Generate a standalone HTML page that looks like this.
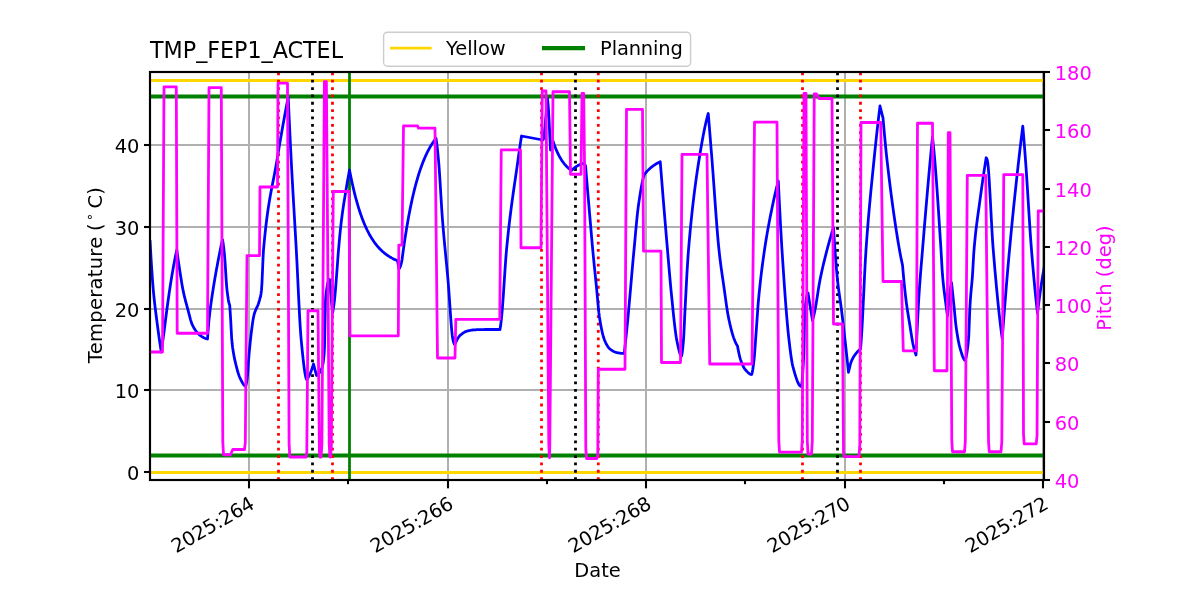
<!DOCTYPE html>
<html lang="en"><head><meta charset="utf-8"><title>TMP_FEP1_ACTEL</title>
<style>html,body{margin:0;padding:0;background:#fff}body{width:1200px;height:600px;overflow:hidden}svg{display:block}text{font-family:'DejaVu Sans','Liberation Sans',sans-serif;}</style></head><body>
<svg width="1200" height="600" viewBox="0 0 1200 600">
<rect x="0" y="0" width="1200" height="600" fill="#ffffff"/>
<defs><clipPath id="ax"><rect x="150" y="72" width="894" height="408"/></clipPath></defs>
<g clip-path="url(#ax)">
<g stroke="#b0b0b0" stroke-width="2" fill="none">
<line x1="249.00" y1="72" x2="249.00" y2="480"/>
<line x1="448.00" y1="72" x2="448.00" y2="480"/>
<line x1="646.00" y1="72" x2="646.00" y2="480"/>
<line x1="845.00" y1="72" x2="845.00" y2="480"/>
<line x1="1043.00" y1="72" x2="1043.00" y2="480"/>
<line x1="150" y1="472.00" x2="1044" y2="472.00"/>
<line x1="150" y1="390.00" x2="1044" y2="390.00"/>
<line x1="150" y1="309.00" x2="1044" y2="309.00"/>
<line x1="150" y1="227.00" x2="1044" y2="227.00"/>
<line x1="150" y1="145.00" x2="1044" y2="145.00"/>
</g>
<line x1="150" y1="80.50" x2="1044" y2="80.50" stroke="#ffd700" stroke-width="2.78"/>
<line x1="150" y1="472.50" x2="1044" y2="472.50" stroke="#ffd700" stroke-width="2.78"/>
<line x1="150" y1="96.50" x2="1044" y2="96.50" stroke="#008000" stroke-width="4.17"/>
<line x1="150" y1="455.50" x2="1044" y2="455.50" stroke="#008000" stroke-width="4.17"/>
<line x1="278.50" y1="480" x2="278.50" y2="72" stroke="#ff0000" stroke-width="2.78" stroke-dasharray="2.78 4.58"/>
<line x1="332.50" y1="480" x2="332.50" y2="72" stroke="#ff0000" stroke-width="2.78" stroke-dasharray="2.78 4.58"/>
<line x1="541.50" y1="480" x2="541.50" y2="72" stroke="#ff0000" stroke-width="2.78" stroke-dasharray="2.78 4.58"/>
<line x1="598.30" y1="480" x2="598.30" y2="72" stroke="#ff0000" stroke-width="2.78" stroke-dasharray="2.78 4.58"/>
<line x1="802.50" y1="480" x2="802.50" y2="72" stroke="#ff0000" stroke-width="2.78" stroke-dasharray="2.78 4.58"/>
<line x1="860.50" y1="480" x2="860.50" y2="72" stroke="#ff0000" stroke-width="2.78" stroke-dasharray="2.78 4.58"/>
<line x1="312.50" y1="480" x2="312.50" y2="72" stroke="#000000" stroke-width="2.78" stroke-dasharray="2.78 4.58"/>
<line x1="575.50" y1="480" x2="575.50" y2="72" stroke="#000000" stroke-width="2.78" stroke-dasharray="2.78 4.58"/>
<line x1="837.50" y1="480" x2="837.50" y2="72" stroke="#000000" stroke-width="2.78" stroke-dasharray="2.78 4.58"/>
<line x1="349.50" y1="480" x2="349.50" y2="72" stroke="#008000" stroke-width="2.78"/>
<path d="M150.00 240.00 L150.49 248.79 L150.98 257.21 L151.47 265.20 L151.97 272.69 L152.46 279.62 L152.95 285.91 L153.44 291.52 L153.93 296.58 L154.42 301.23 L154.91 305.55 L155.40 309.61 L155.90 313.50 L156.39 317.29 L156.88 321.06 L157.37 324.84 L157.86 328.55 L158.35 332.18 L158.84 335.73 L159.33 339.18 L159.83 342.54 L160.32 345.80 L160.81 348.96 L161.30 352.00 L161.80 348.35 L162.30 344.68 L162.80 340.98 L163.30 337.26 L163.80 333.51 L164.30 329.71 L164.80 325.83 L165.30 321.89 L165.80 317.94 L166.30 314.02 L166.80 310.18 L167.30 306.45 L167.80 302.85 L168.30 299.30 L168.80 295.78 L169.30 292.32 L169.80 288.92 L170.30 285.60 L170.80 282.36 L171.30 279.22 L171.80 276.18 L172.30 273.25 L172.80 270.39 L173.30 267.59 L173.80 264.85 L174.30 262.18 L174.80 259.59 L175.30 257.07 L175.80 254.63 L176.30 252.27 L176.80 250.00 L177.30 253.59 L177.79 257.12 L178.29 260.58 L178.78 263.97 L179.28 267.28 L179.77 270.53 L180.27 273.71 L180.76 276.90 L181.26 280.05 L181.75 283.11 L182.25 286.01 L182.74 288.70 L183.24 291.14 L183.73 293.42 L184.23 295.59 L184.72 297.65 L185.22 299.63 L185.71 301.54 L186.21 303.40 L186.70 305.23 L187.20 307.04 L187.69 308.86 L188.19 310.71 L188.68 312.61 L189.18 314.54 L189.67 316.46 L190.17 318.32 L190.66 320.08 L191.16 321.70 L191.65 323.13 L192.15 324.35 L192.65 325.43 L193.14 326.44 L193.64 327.38 L194.13 328.25 L194.63 329.05 L195.12 329.80 L195.62 330.49 L196.11 331.14 L196.61 331.76 L197.10 332.36 L197.60 332.93 L198.09 333.48 L198.59 333.99 L199.08 334.47 L199.58 334.92 L200.07 335.33 L200.57 335.71 L201.06 336.04 L201.56 336.35 L202.05 336.66 L202.55 336.96 L203.04 337.25 L203.54 337.53 L204.03 337.79 L204.53 338.03 L205.02 338.25 L205.52 338.45 L206.01 338.63 L206.51 338.78 L207.00 338.91 L207.50 339.00 L208.00 332.04 L208.50 325.54 L209.00 320.00 L209.50 315.32 L210.00 311.03 L210.50 307.07 L211.00 303.37 L211.50 299.88 L212.00 296.53 L212.50 293.26 L213.00 290.00 L213.50 286.79 L214.00 283.68 L214.50 280.67 L215.00 277.74 L215.50 274.89 L216.00 272.10 L216.50 269.36 L217.00 266.67 L217.50 264.00 L218.00 261.36 L218.50 258.76 L219.00 256.20 L219.50 253.68 L220.00 251.20 L220.50 248.77 L221.00 246.38 L221.50 244.04 L222.00 241.74 L222.50 239.50 L222.98 242.26 L223.46 245.71 L223.94 249.73 L224.42 254.22 L224.90 259.76 L225.38 267.00 L225.86 274.90 L226.34 282.38 L226.82 288.36 L227.30 292.38 L227.78 296.00 L228.26 299.25 L228.74 301.95 L229.22 303.93 L229.70 305.00 L230.19 312.04 L230.69 319.80 L231.18 329.27 L231.67 338.36 L232.17 343.78 L232.66 347.73 L233.16 351.00 L233.65 353.95 L234.14 356.64 L234.64 359.10 L235.13 361.37 L235.62 363.48 L236.12 365.47 L236.61 367.40 L237.11 369.27 L237.60 371.06 L238.09 372.75 L238.59 374.32 L239.08 375.76 L239.57 377.04 L240.07 378.14 L240.56 379.17 L241.06 380.17 L241.55 381.13 L242.04 382.04 L242.54 382.90 L243.03 383.69 L243.53 384.41 L244.02 385.03 L244.51 385.57 L245.01 385.99 L245.50 386.30 L246.00 385.21 L246.50 382.93 L247.00 380.00 L247.50 375.41 L248.00 368.74 L248.50 361.46 L249.00 355.00 L249.50 349.51 L250.00 344.25 L250.50 339.36 L251.00 335.00 L251.50 330.97 L252.00 327.07 L252.50 323.42 L253.00 320.11 L253.50 317.27 L254.00 315.00 L254.50 313.21 L255.00 311.69 L255.50 310.38 L256.00 309.22 L256.50 308.14 L257.00 307.09 L257.50 306.02 L258.00 304.85 L258.50 303.53 L259.00 302.00 L259.50 300.12 L260.00 298.00 L260.49 296.86 L260.99 293.97 L261.48 290.13 L261.98 282.94 L262.47 271.46 L262.97 259.39 L263.46 250.44 L263.96 244.91 L264.45 239.71 L264.95 234.80 L265.44 230.16 L265.94 225.78 L266.43 221.64 L266.93 217.73 L267.42 214.02 L267.92 210.51 L268.41 207.17 L268.91 203.99 L269.40 200.95 L269.89 198.04 L270.39 195.23 L270.88 192.52 L271.38 189.88 L271.87 187.30 L272.37 184.76 L272.86 182.25 L273.36 179.75 L273.85 177.24 L274.35 174.70 L274.84 172.13 L275.34 169.49 L275.83 166.78 L276.33 163.99 L276.82 161.08 L277.32 158.08 L277.81 155.09 L278.31 152.13 L278.80 149.18 L279.29 146.25 L279.79 143.34 L280.28 140.45 L280.78 137.58 L281.27 134.73 L281.77 131.90 L282.26 129.09 L282.76 126.31 L283.25 123.54 L283.75 120.79 L284.24 118.06 L284.74 115.36 L285.23 112.67 L285.73 110.01 L286.22 107.37 L286.72 104.74 L287.21 102.14 L287.71 99.56 L288.20 97.00 L288.70 108.05 L289.20 118.92 L289.70 129.59 L290.20 140.02 L290.70 150.17 L291.20 160.00 L291.70 169.49 L292.20 178.67 L292.70 187.61 L293.20 196.36 L293.70 204.98 L294.20 213.54 L294.70 222.07 L295.20 230.66 L295.70 239.35 L296.20 248.20 L296.70 257.46 L297.20 267.38 L297.70 277.71 L298.20 288.20 L298.70 298.60 L299.20 308.63 L299.70 318.04 L300.20 326.58 L300.70 333.99 L301.20 340.00 L301.70 345.19 L302.20 350.27 L302.70 355.16 L303.20 359.80 L303.70 364.12 L304.20 368.07 L304.70 371.56 L305.20 374.55 L305.70 376.95 L306.20 378.70 L306.70 379.75 L307.19 379.09 L307.67 378.36 L308.16 377.56 L308.64 376.69 L309.13 375.74 L309.61 374.73 L310.10 373.64 L310.59 372.48 L311.07 371.25 L311.56 369.94 L312.04 368.56 L312.53 367.11 L313.01 365.59 L313.50 364.00 L316.50 375.50 L317.00 375.33 L317.50 375.01 L318.00 374.56 L318.50 374.02 L319.00 373.39 L319.50 372.71 L320.00 372.00 L320.50 371.22 L321.00 370.29 L321.50 369.14 L322.00 367.73 L322.50 366.00 L323.00 363.69 L323.50 360.28 L324.00 355.35 L324.50 347.67 L325.00 321.34 L325.50 300.00 L326.00 294.97 L326.50 290.69 L327.00 287.16 L327.50 284.32 L328.00 282.17 L328.50 280.67 L329.00 279.79 L329.50 279.50 L332.50 313.00 L333.00 310.61 L333.50 307.57 L334.00 304.00 L334.50 300.00 L335.00 295.23 L335.50 289.48 L336.00 283.13 L336.50 276.51 L337.00 270.00 L337.50 263.29 L338.00 256.36 L338.50 250.00 L339.00 244.31 L339.50 238.86 L340.00 233.69 L340.50 228.80 L341.00 224.23 L341.50 220.00 L342.00 216.07 L342.50 212.37 L343.00 208.86 L343.50 205.51 L344.00 202.29 L344.50 199.16 L345.00 196.10 L345.50 193.05 L346.00 190.00 L346.50 186.96 L347.00 183.99 L347.50 181.07 L348.00 178.21 L348.50 175.42 L349.00 172.68 L349.50 170.00 L350.00 172.59 L350.50 175.12 L351.00 177.58 L351.50 179.97 L352.00 182.30 L352.50 184.57 L353.00 186.78 L353.50 188.93 L354.00 191.03 L354.50 193.07 L355.00 195.05 L355.50 196.99 L356.00 198.87 L356.50 200.70 L357.00 202.48 L357.50 204.22 L358.00 205.91 L358.50 207.56 L359.00 209.16 L359.50 210.72 L360.00 212.24 L360.50 213.72 L361.00 215.16 L361.50 216.56 L362.00 217.92 L362.50 219.25 L363.00 220.54 L363.50 221.80 L364.00 223.03 L364.50 224.22 L365.00 225.39 L365.50 226.52 L366.00 227.62 L366.50 228.69 L367.00 229.73 L367.50 230.75 L368.00 231.74 L368.50 232.70 L369.00 233.64 L369.50 234.56 L370.00 235.45 L370.50 236.31 L371.00 237.15 L371.50 237.97 L372.00 238.77 L372.50 239.55 L373.00 240.31 L373.50 241.05 L374.00 241.76 L374.50 242.46 L375.00 243.14 L375.50 243.80 L376.00 244.45 L376.50 245.08 L377.00 245.69 L377.50 246.28 L378.00 246.86 L378.50 247.43 L379.00 247.98 L379.50 248.51 L380.00 249.03 L380.50 249.54 L381.00 250.03 L381.50 250.51 L382.00 250.98 L382.50 251.44 L383.00 251.88 L383.50 252.31 L384.00 252.73 L384.50 253.14 L385.00 253.54 L385.50 253.93 L386.00 254.30 L386.50 254.67 L387.00 255.03 L387.50 255.38 L388.00 255.72 L388.50 256.05 L389.00 256.37 L389.50 256.68 L390.00 256.99 L390.50 257.28 L391.00 257.57 L391.50 257.85 L392.00 258.13 L392.50 258.39 L393.00 258.65 L393.50 258.90 L394.00 259.15 L394.50 259.39 L395.00 259.62 L395.50 259.85 L396.00 260.07 L396.50 260.29 L397.00 260.50 L397.50 260.70 L399.00 269.00 L399.50 268.30 L400.00 267.26 L400.50 266.00 L401.00 264.41 L401.50 262.37 L402.00 260.00 L402.50 256.19 L403.00 252.48 L403.50 248.86 L404.00 245.35 L404.50 241.92 L405.00 238.58 L405.50 235.33 L406.00 232.16 L406.50 229.08 L407.00 226.08 L407.50 223.15 L408.00 220.31 L408.50 217.53 L409.00 214.83 L409.50 212.20 L410.00 209.64 L410.50 207.14 L411.00 204.71 L411.50 202.35 L412.00 200.04 L412.50 197.80 L413.00 195.61 L413.50 193.49 L414.00 191.41 L414.50 189.39 L415.00 187.43 L415.50 185.51 L416.00 183.65 L416.50 181.83 L417.00 180.07 L417.50 178.34 L418.00 176.67 L418.50 175.03 L419.00 173.44 L419.50 171.89 L420.00 170.38 L420.50 168.91 L421.00 167.48 L421.50 166.09 L422.00 164.73 L422.50 163.41 L423.00 162.12 L423.50 160.87 L424.00 159.65 L424.50 158.46 L425.00 157.30 L425.50 156.18 L426.00 155.08 L426.50 154.01 L427.00 152.97 L427.50 151.95 L428.00 150.96 L428.50 150.00 L429.00 149.07 L429.50 148.15 L430.00 147.26 L430.50 146.40 L431.00 145.56 L431.50 144.74 L432.00 143.94 L432.50 143.16 L433.00 142.40 L433.50 141.66 L434.00 140.94 L434.50 140.24 L435.00 139.56 L435.50 138.90 L436.00 138.25 L436.49 141.61 L436.99 145.47 L437.48 149.78 L437.97 154.52 L438.47 159.65 L438.96 165.50 L439.45 172.37 L439.95 179.99 L440.44 188.04 L440.93 196.26 L441.43 204.33 L441.92 211.97 L442.41 218.89 L442.91 225.07 L443.40 230.92 L443.89 236.50 L444.39 241.86 L444.88 247.07 L445.38 252.18 L445.87 257.25 L446.36 262.33 L446.86 267.48 L447.35 272.75 L447.84 278.21 L448.34 284.03 L448.83 290.56 L449.32 297.57 L449.82 304.80 L450.31 312.02 L450.80 318.96 L451.30 325.38 L451.79 331.02 L452.28 335.64 L452.78 338.98 L453.27 341.02 L453.76 342.73 L454.26 343.98 L454.75 344.50 L455.25 343.43 L455.74 342.37 L456.24 341.35 L456.74 340.36 L457.24 339.43 L457.73 338.55 L458.23 337.73 L458.73 336.99 L459.23 336.33 L459.72 335.77 L460.22 335.30 L460.72 334.86 L461.21 334.45 L461.71 334.05 L462.21 333.67 L462.71 333.31 L463.20 332.97 L463.70 332.66 L464.20 332.37 L464.70 332.09 L465.19 331.85 L465.69 331.62 L466.19 331.42 L466.68 331.24 L467.18 331.09 L467.68 330.96 L468.18 330.83 L468.67 330.72 L469.17 330.61 L469.67 330.50 L470.16 330.40 L470.66 330.31 L471.16 330.22 L471.66 330.14 L472.15 330.07 L472.65 330.00 L473.15 329.94 L473.65 329.89 L474.14 329.85 L474.64 329.82 L475.14 329.79 L475.63 329.77 L476.13 329.75 L476.63 329.73 L477.13 329.71 L477.62 329.69 L478.12 329.67 L478.62 329.65 L479.12 329.64 L479.61 329.62 L480.11 329.61 L480.61 329.59 L481.10 329.58 L481.60 329.57 L482.10 329.55 L482.60 329.54 L483.09 329.54 L483.59 329.53 L484.09 329.52 L484.59 329.51 L485.08 329.51 L485.58 329.50 L486.08 329.50 L486.57 329.50 L487.07 329.50 L487.57 329.50 L488.07 329.50 L488.56 329.50 L489.06 329.50 L489.56 329.50 L490.05 329.50 L490.55 329.50 L491.05 329.50 L491.55 329.50 L492.04 329.50 L492.54 329.50 L493.04 329.50 L493.54 329.50 L494.03 329.50 L494.53 329.50 L495.03 329.50 L495.52 329.50 L496.02 329.50 L496.52 329.50 L497.02 329.50 L497.51 329.50 L498.01 329.50 L498.51 329.50 L499.01 329.50 L499.50 329.50 L500.00 329.50 L500.50 326.34 L501.00 322.45 L501.50 318.00 L502.00 312.73 L502.50 306.57 L503.00 300.00 L503.50 292.90 L504.00 285.20 L504.50 277.40 L505.00 270.00 L505.50 262.86 L506.00 255.97 L506.50 250.00 L507.00 244.82 L507.50 239.84 L508.00 235.05 L508.50 230.43 L509.00 225.98 L509.50 221.68 L510.00 217.52 L510.50 213.48 L511.00 209.57 L511.50 205.75 L512.00 202.03 L512.50 198.38 L513.00 194.80 L513.50 191.28 L514.00 187.79 L514.50 184.34 L515.00 180.91 L515.50 177.48 L516.00 174.04 L516.50 170.59 L517.00 167.11 L517.50 163.58 L518.00 160.00 L518.50 156.42 L519.00 152.91 L519.50 149.45 L520.00 146.04 L520.50 142.67 L521.00 139.32 L521.50 136.00 L541.50 139.75 L542.00 139.93 L542.50 139.99 L543.00 140.00 L543.50 138.94 L544.00 136.07 L544.50 131.82 L545.00 126.64 L545.50 120.98 L546.00 115.28 L546.50 110.00 L547.00 104.71 L547.50 99.00 L548.00 103.68 L548.50 110.00 L549.00 118.65 L549.50 129.32 L550.00 140.00 L550.50 150.00 L553.00 141.00 L553.50 142.51 L554.00 143.96 L554.50 145.35 L555.00 146.68 L555.50 147.97 L556.00 149.20 L556.50 150.38 L557.00 151.52 L557.50 152.61 L558.00 153.66 L558.50 154.66 L559.00 155.63 L559.50 156.56 L560.00 157.45 L560.50 158.30 L561.00 159.12 L561.50 159.91 L562.00 160.67 L562.50 161.40 L563.00 162.09 L563.50 162.76 L564.00 163.41 L564.50 164.03 L565.00 164.62 L565.50 165.19 L566.00 165.74 L566.50 166.26 L567.00 166.77 L567.50 167.25 L568.00 167.72 L568.50 168.17 L569.00 168.60 L569.50 169.01 L570.00 169.40 L570.50 169.78 L571.00 170.15 L571.50 170.50 L572.00 170.02 L572.50 169.55 L573.00 169.10 L573.50 168.67 L574.00 168.26 L574.50 167.86 L575.00 167.48 L575.50 167.11 L576.00 166.76 L576.50 166.43 L577.00 166.12 L577.50 165.82 L578.00 165.53 L578.50 165.27 L579.00 165.02 L579.50 164.78 L580.00 164.56 L580.50 164.36 L581.00 164.17 L581.50 164.00 L582.00 163.85 L582.50 163.71 L583.00 163.60 L583.50 163.50 L585.50 165.50 L586.00 171.43 L586.49 177.33 L586.99 183.21 L587.49 189.07 L587.98 194.91 L588.48 200.73 L588.98 206.53 L589.47 212.32 L589.97 218.09 L590.47 223.85 L590.96 229.59 L591.46 235.37 L591.96 241.14 L592.46 246.77 L592.95 252.16 L593.45 257.34 L593.95 262.37 L594.44 267.31 L594.94 272.18 L595.44 277.02 L595.93 281.88 L596.43 286.80 L596.93 291.95 L597.42 297.44 L597.92 302.97 L598.42 308.25 L598.91 313.00 L599.41 316.91 L599.91 320.05 L600.40 323.00 L600.90 325.78 L601.40 328.36 L601.89 330.76 L602.39 332.96 L602.89 334.96 L603.38 336.75 L603.88 338.33 L604.38 339.70 L604.88 340.89 L605.37 342.01 L605.87 343.06 L606.37 344.04 L606.86 344.96 L607.36 345.80 L607.86 346.57 L608.35 347.26 L608.85 347.88 L609.35 348.41 L609.84 348.87 L610.34 349.26 L610.84 349.63 L611.33 349.99 L611.83 350.32 L612.33 350.64 L612.82 350.94 L613.32 351.22 L613.82 351.48 L614.31 351.72 L614.81 351.94 L615.31 352.14 L615.80 352.31 L616.30 352.47 L616.80 352.60 L617.29 352.71 L617.79 352.80 L618.29 352.89 L618.79 352.97 L619.28 353.05 L619.78 353.13 L620.28 353.20 L620.77 353.26 L621.27 353.32 L621.77 353.37 L622.26 353.42 L622.76 353.45 L623.26 353.48 L623.75 353.49 L624.25 353.50 L624.74 349.02 L625.24 344.48 L625.73 339.85 L626.23 335.13 L626.72 330.31 L627.21 325.37 L627.71 320.29 L628.20 315.04 L628.70 309.66 L629.19 304.16 L629.68 298.58 L630.18 292.94 L630.67 287.27 L631.16 281.58 L631.66 275.91 L632.15 270.28 L632.65 264.71 L633.14 259.24 L633.63 253.88 L634.13 248.65 L634.62 243.32 L635.12 237.88 L635.61 232.42 L636.10 227.04 L636.60 221.82 L637.09 216.86 L637.59 212.26 L638.08 208.11 L638.57 204.50 L639.07 201.14 L639.56 197.87 L640.05 194.70 L640.55 191.66 L641.04 188.76 L641.54 186.02 L642.03 183.47 L642.52 181.13 L643.02 179.02 L643.51 177.15 L644.01 175.56 L644.50 174.25 L644.99 173.67 L645.48 173.10 L645.98 172.53 L646.47 171.98 L646.96 171.44 L647.45 170.92 L647.95 170.40 L648.44 169.90 L648.93 169.41 L649.42 168.94 L649.91 168.49 L650.41 168.05 L650.90 167.63 L651.39 167.22 L651.88 166.84 L652.38 166.47 L652.87 166.11 L653.36 165.75 L653.85 165.40 L654.34 165.06 L654.84 164.73 L655.33 164.40 L655.82 164.09 L656.31 163.79 L656.80 163.49 L657.30 163.21 L657.79 162.94 L658.28 162.69 L658.77 162.44 L659.27 162.21 L659.76 162.00 L660.25 161.80 L660.75 168.16 L661.25 174.47 L661.75 180.73 L662.25 186.96 L662.75 193.14 L663.25 199.28 L663.75 205.39 L664.25 211.45 L664.75 217.48 L665.25 223.47 L665.75 229.42 L666.25 235.34 L666.75 241.23 L667.25 247.08 L667.75 252.92 L668.25 258.80 L668.75 264.69 L669.25 270.54 L669.75 276.29 L670.25 281.91 L670.75 287.33 L671.25 292.51 L671.75 297.46 L672.25 302.42 L672.75 307.39 L673.25 312.30 L673.75 317.10 L674.25 321.72 L674.75 326.10 L675.25 330.18 L675.75 333.90 L676.25 337.19 L676.75 340.00 L677.25 342.51 L677.75 344.92 L678.25 347.20 L678.75 349.33 L679.25 351.26 L679.75 352.98 L680.25 354.45 L680.75 355.63 L681.25 356.50 L681.75 355.37 L682.25 352.35 L682.75 347.97 L683.25 342.75 L683.75 336.50 L684.25 326.42 L684.75 315.08 L685.25 305.31 L685.75 295.81 L686.25 286.34 L686.75 277.13 L687.25 268.39 L687.75 260.33 L688.25 253.17 L688.75 247.00 L689.25 241.18 L689.75 235.56 L690.25 230.16 L690.75 224.95 L691.25 219.93 L691.75 215.10 L692.25 210.43 L692.75 205.93 L693.25 201.59 L693.75 197.39 L694.25 193.33 L694.75 189.40 L695.25 185.59 L695.75 181.89 L696.25 178.30 L696.75 174.80 L697.25 171.38 L697.75 168.05 L698.25 164.79 L698.75 161.58 L699.25 158.43 L699.75 155.33 L700.25 152.28 L700.75 149.29 L701.25 146.36 L701.75 143.49 L702.25 140.69 L702.75 137.96 L703.25 135.30 L703.75 132.72 L704.25 130.22 L704.75 127.80 L705.25 125.47 L705.75 123.23 L706.25 121.08 L706.75 119.03 L707.25 117.08 L707.75 115.24 L708.25 113.50 L708.75 119.58 L709.24 125.67 L709.74 131.78 L710.23 137.92 L710.73 144.08 L711.22 150.27 L711.72 156.48 L712.22 162.75 L712.71 169.23 L713.21 175.92 L713.70 182.76 L714.20 189.68 L714.69 196.63 L715.19 203.57 L715.69 210.42 L716.18 217.14 L716.68 223.66 L717.17 229.94 L717.67 235.91 L718.17 241.52 L718.66 246.72 L719.16 251.45 L719.65 255.83 L720.15 259.96 L720.64 263.85 L721.14 267.57 L721.64 271.14 L722.13 274.62 L722.63 278.03 L723.12 281.42 L723.62 284.84 L724.11 288.31 L724.61 291.87 L725.11 295.48 L725.60 299.10 L726.10 302.65 L726.59 306.11 L727.09 309.41 L727.58 312.50 L728.08 315.34 L728.58 317.87 L729.07 320.23 L729.57 322.50 L730.06 324.69 L730.56 326.78 L731.06 328.79 L731.55 330.70 L732.05 332.51 L732.54 334.23 L733.04 335.84 L733.53 337.36 L734.03 338.76 L734.53 340.06 L735.02 341.27 L735.52 342.40 L736.01 343.44 L736.51 344.39 L737.00 345.25 L737.50 346.00 L737.99 348.63 L738.48 351.16 L738.97 353.54 L739.47 355.73 L739.96 357.68 L740.45 359.34 L740.94 360.79 L741.43 362.15 L741.92 363.44 L742.41 364.63 L742.91 365.73 L743.40 366.73 L743.89 367.63 L744.38 368.42 L744.87 369.09 L745.36 369.68 L745.85 370.25 L746.34 370.81 L746.84 371.35 L747.33 371.87 L747.82 372.36 L748.31 372.82 L748.80 373.23 L749.29 373.59 L749.78 373.90 L750.28 374.16 L750.77 374.34 L751.26 374.46 L751.75 374.50 L752.24 372.49 L752.73 369.71 L753.23 366.29 L753.72 362.40 L754.21 358.05 L754.70 352.41 L755.19 345.77 L755.68 338.68 L756.17 331.69 L756.67 324.93 L757.16 317.80 L757.65 310.73 L758.14 304.18 L758.63 298.58 L759.12 293.49 L759.62 288.65 L760.11 284.03 L760.60 279.62 L761.09 275.40 L761.58 271.35 L762.07 267.46 L762.57 263.71 L763.06 260.09 L763.55 256.57 L764.04 253.13 L764.53 249.77 L765.02 246.50 L765.52 243.33 L766.01 240.25 L766.50 237.26 L766.99 234.36 L767.48 231.53 L767.98 228.77 L768.47 226.08 L768.96 223.44 L769.45 220.86 L769.94 218.33 L770.43 215.83 L770.92 213.37 L771.42 210.94 L771.91 208.54 L772.40 206.18 L772.89 203.85 L773.38 201.56 L773.88 199.31 L774.37 197.09 L774.86 194.92 L775.35 192.79 L775.84 190.71 L776.33 188.67 L776.82 186.68 L777.32 184.73 L777.81 182.84 L778.30 181.00 L778.80 191.23 L779.30 201.29 L779.80 211.11 L780.30 220.62 L780.79 229.77 L781.29 238.49 L781.79 246.73 L782.29 254.51 L782.79 262.15 L783.29 269.68 L783.79 277.07 L784.29 284.30 L784.79 291.34 L785.28 298.17 L785.78 304.76 L786.28 311.10 L786.78 317.15 L787.28 322.89 L787.78 328.31 L788.28 333.36 L788.78 338.04 L789.28 342.36 L789.77 346.54 L790.27 350.54 L790.77 354.32 L791.27 357.82 L791.77 360.98 L792.27 363.76 L792.77 366.09 L793.27 367.99 L793.77 369.81 L794.27 371.60 L794.76 373.34 L795.26 375.02 L795.76 376.62 L796.26 378.15 L796.76 379.59 L797.26 380.92 L797.76 382.14 L798.26 383.23 L798.76 384.18 L799.25 384.99 L799.75 385.63 L800.25 386.11 L800.75 386.40 L801.25 386.50 L801.73 384.83 L802.21 380.32 L802.70 373.70 L803.18 365.71 L803.66 356.26 L804.14 338.20 L804.62 318.77 L805.11 308.89 L805.59 304.29 L806.07 300.39 L806.55 297.25 L807.04 294.93 L807.52 293.49 L808.00 293.00 L812.50 320.50 L813.00 318.64 L813.50 316.67 L814.00 314.58 L814.50 312.35 L815.00 310.00 L815.50 307.42 L816.00 304.59 L816.50 301.55 L817.00 298.37 L817.50 295.13 L818.00 291.87 L818.50 288.66 L819.00 285.57 L819.50 282.67 L820.00 280.00 L820.50 277.51 L821.00 275.10 L821.50 272.75 L822.00 270.46 L822.50 268.23 L823.00 266.06 L823.50 263.93 L824.00 261.85 L824.50 259.80 L825.00 257.79 L825.50 255.81 L826.00 253.85 L826.50 251.92 L827.00 250.00 L827.50 248.10 L828.00 246.23 L828.50 244.38 L829.00 242.56 L829.50 240.77 L830.00 239.00 L830.50 237.27 L831.00 235.56 L831.50 233.89 L832.00 232.24 L832.50 230.63 L833.00 229.05 L833.50 227.50 L834.00 235.42 L834.50 242.97 L835.00 250.00 L835.50 256.67 L836.00 263.15 L836.50 269.29 L837.00 274.95 L837.50 280.00 L838.00 284.45 L838.50 288.47 L839.00 292.18 L839.50 295.69 L840.00 299.12 L840.50 302.57 L841.00 306.16 L841.50 310.00 L842.00 314.06 L842.50 318.22 L843.00 322.47 L843.50 326.79 L844.00 331.16 L844.50 335.57 L845.00 340.00 L845.50 344.47 L846.00 348.98 L846.50 353.54 L847.00 358.15 L847.50 362.80 L848.00 367.50 L848.50 372.25 L849.00 369.99 L849.50 367.82 L850.00 365.79 L850.50 363.95 L851.00 362.34 L851.50 361.00 L852.00 359.87 L852.50 358.84 L853.00 357.89 L853.50 357.03 L854.00 356.23 L854.50 355.49 L855.00 354.79 L855.50 354.13 L856.00 353.50 L856.50 352.88 L857.00 352.29 L857.50 351.72 L858.00 351.18 L858.50 350.67 L859.00 350.19 L859.50 349.76 L860.00 349.36 L860.50 349.00 L861.00 343.27 L861.50 336.33 L862.00 328.00 L862.50 318.62 L863.00 308.50 L863.50 297.96 L864.00 287.31 L864.50 276.87 L865.00 266.96 L865.50 257.90 L866.00 250.00 L866.50 242.94 L867.00 236.17 L867.50 229.68 L868.00 223.43 L868.50 217.42 L869.00 211.61 L869.50 205.98 L870.00 200.52 L870.50 195.19 L871.00 189.99 L871.50 184.88 L872.00 179.84 L872.50 174.86 L873.00 169.90 L873.50 164.96 L874.00 160.00 L874.50 155.07 L875.00 150.21 L875.50 145.43 L876.00 140.73 L876.50 136.11 L877.00 131.57 L877.50 127.10 L878.00 122.72 L878.50 118.42 L879.00 114.20 L879.50 110.06 L880.00 106.00 L883.00 118.00 L883.50 123.65 L884.00 129.26 L884.50 134.81 L885.00 140.24 L885.50 145.51 L886.00 150.59 L886.50 155.43 L887.00 160.00 L887.50 164.38 L888.00 168.69 L888.50 172.93 L889.00 177.10 L889.50 181.20 L890.00 185.24 L890.50 189.21 L891.00 193.12 L891.50 196.96 L892.00 200.73 L892.50 204.45 L893.00 208.09 L893.50 211.68 L894.00 215.20 L894.50 218.66 L895.00 222.06 L895.50 225.40 L896.00 228.68 L896.50 231.90 L897.00 235.06 L897.50 238.16 L898.00 241.21 L898.50 244.20 L899.00 247.13 L899.50 250.00 L900.00 252.77 L900.50 255.40 L901.00 257.92 L901.50 260.34 L902.00 262.70 L902.50 265.00 L903.00 270.73 L903.50 276.26 L904.00 281.57 L904.50 286.62 L905.00 291.40 L905.50 295.87 L906.00 300.00 L906.50 303.81 L907.00 307.35 L907.50 310.68 L908.00 313.84 L908.50 316.91 L909.00 319.92 L909.50 322.93 L910.00 326.00 L910.50 329.18 L911.00 332.42 L911.50 335.63 L912.00 338.69 L912.50 341.52 L913.00 344.00 L913.50 346.22 L914.00 348.32 L914.50 350.27 L915.00 352.05 L915.50 353.63 L916.00 355.00 L916.50 343.56 L917.00 332.59 L917.50 322.17 L918.00 312.37 L918.50 303.29 L919.00 295.00 L919.50 287.48 L920.00 280.55 L920.50 274.09 L921.00 267.95 L921.50 261.98 L922.00 256.04 L922.50 250.00 L923.00 243.87 L923.50 237.78 L924.00 231.73 L924.50 225.71 L925.00 219.73 L925.50 213.79 L926.00 207.90 L926.50 202.06 L927.00 196.26 L927.50 190.52 L928.00 184.84 L928.50 179.21 L929.00 173.64 L929.50 168.14 L930.00 162.70 L930.50 157.33 L931.00 152.11 L931.50 147.00 L932.00 141.97 L932.50 137.00 L933.00 141.65 L933.50 146.53 L934.00 151.67 L934.50 157.14 L935.00 162.95 L935.50 169.10 L936.00 175.54 L936.50 182.25 L937.00 189.20 L937.50 196.36 L938.00 203.70 L938.50 211.19 L939.00 218.81 L939.50 226.53 L940.00 234.32 L940.50 242.16 L941.00 250.00 L941.50 258.65 L942.00 267.63 L942.50 275.00 L943.00 280.53 L943.50 285.38 L944.00 289.73 L944.50 293.71 L945.00 297.47 L945.50 301.19 L946.00 305.00 L946.50 308.82 L947.00 312.47 L947.50 316.00 L948.00 310.17 L948.50 305.00 L949.00 300.47 L949.50 296.16 L950.00 292.12 L950.50 288.45 L951.00 285.22 L951.50 282.50 L951.99 286.98 L952.48 291.53 L952.97 296.15 L953.46 300.82 L953.95 305.55 L954.44 310.57 L954.94 315.89 L955.43 321.00 L955.92 325.37 L956.41 328.92 L956.90 332.24 L957.39 335.34 L957.88 338.22 L958.37 340.88 L958.86 343.30 L959.35 345.48 L959.84 347.43 L960.33 349.17 L960.82 350.86 L961.31 352.47 L961.81 354.00 L962.30 355.43 L962.79 356.72 L963.28 357.87 L963.77 358.85 L964.26 359.65 L964.75 360.25 L965.25 359.82 L965.75 358.59 L966.25 356.60 L966.75 353.93 L967.24 350.64 L967.74 346.79 L968.24 342.43 L968.74 336.48 L969.24 324.05 L969.74 310.36 L970.24 301.36 L970.74 294.93 L971.23 289.49 L971.73 284.29 L972.23 278.56 L972.73 271.42 L973.23 262.45 L973.73 253.75 L974.23 247.34 L974.73 241.87 L975.23 236.85 L975.72 232.21 L976.22 227.90 L976.72 223.85 L977.22 220.03 L977.72 216.35 L978.22 212.78 L978.72 209.26 L979.22 205.72 L979.72 202.11 L980.21 198.40 L980.71 194.70 L981.21 191.06 L981.71 187.46 L982.21 183.92 L982.71 180.44 L983.21 177.01 L983.71 173.65 L984.20 170.34 L984.70 167.09 L985.20 163.91 L985.70 160.80 L986.20 157.75 L986.69 158.40 L987.17 159.75 L987.66 162.02 L988.15 166.11 L988.63 171.78 L989.12 178.74 L989.60 186.71 L990.09 195.40 L990.58 204.54 L991.06 213.83 L991.55 223.00 L992.04 231.76 L992.52 239.83 L993.01 246.93 L993.50 252.95 L993.98 258.73 L994.47 264.44 L994.95 270.05 L995.44 275.57 L995.93 280.99 L996.41 286.29 L996.90 291.47 L997.39 296.53 L997.87 301.46 L998.36 306.24 L998.85 310.87 L999.33 315.35 L999.82 319.66 L1000.30 323.80 L1000.79 327.77 L1001.28 331.54 L1001.76 335.12 L1002.25 338.50 L1002.74 332.02 L1003.23 325.61 L1003.72 319.25 L1004.21 312.96 L1004.70 306.74 L1005.19 300.59 L1005.67 294.52 L1006.16 288.52 L1006.65 282.61 L1007.14 276.78 L1007.63 271.04 L1008.12 265.40 L1008.61 259.84 L1009.10 254.39 L1009.59 249.03 L1010.08 243.76 L1010.57 238.56 L1011.06 233.43 L1011.55 228.37 L1012.04 223.37 L1012.52 218.43 L1013.01 213.56 L1013.50 208.74 L1013.99 203.98 L1014.48 199.27 L1014.97 194.60 L1015.46 189.99 L1015.95 185.42 L1016.44 180.89 L1016.93 176.40 L1017.42 171.95 L1017.91 167.53 L1018.40 163.15 L1018.89 158.80 L1019.38 154.51 L1019.86 150.30 L1020.35 146.15 L1020.84 142.07 L1021.33 138.04 L1021.82 134.07 L1022.31 130.14 L1022.80 126.25 L1023.29 132.05 L1023.78 137.97 L1024.27 144.03 L1024.76 150.25 L1025.25 156.66 L1025.74 163.29 L1026.23 170.30 L1026.72 177.65 L1027.21 185.24 L1027.70 193.01 L1028.19 200.87 L1028.68 208.73 L1029.17 216.52 L1029.66 224.15 L1030.15 231.54 L1030.64 238.61 L1031.13 245.28 L1031.62 251.48 L1032.11 257.44 L1032.60 263.28 L1033.09 268.98 L1033.58 274.55 L1034.07 279.96 L1034.56 285.21 L1035.05 290.30 L1035.54 295.22 L1036.03 299.95 L1036.52 304.50 L1037.01 308.85 L1037.50 313.00 L1038.00 308.85 L1038.50 304.84 L1039.00 300.96 L1039.50 297.20 L1040.00 293.57 L1040.50 290.05 L1041.00 286.64 L1041.50 283.33 L1042.00 280.13 L1042.50 277.02 L1043.00 274.02 L1043.50 271.20 L1044.00 268.54 L1044.50 266.00" fill="none" stroke="#0000ff" stroke-width="2.78" stroke-linejoin="round" stroke-linecap="butt"/>
</g>
<g stroke="#000" stroke-width="2.08" fill="none">
<line x1="249.00" y1="480" x2="249.00" y2="488.33"/>
<line x1="448.00" y1="480" x2="448.00" y2="488.33"/>
<line x1="646.00" y1="480" x2="646.00" y2="488.33"/>
<line x1="845.00" y1="480" x2="845.00" y2="488.33"/>
<line x1="1043.00" y1="480" x2="1043.00" y2="488.33"/>
<line x1="150" y1="472.00" x2="144.00" y2="472.00"/>
<line x1="150" y1="390.00" x2="144.00" y2="390.00"/>
<line x1="150" y1="309.00" x2="144.00" y2="309.00"/>
<line x1="150" y1="227.00" x2="144.00" y2="227.00"/>
<line x1="150" y1="145.00" x2="144.00" y2="145.00"/>
</g>
<g stroke="#000" stroke-width="2.08" fill="none">
<line x1="348.00" y1="480" x2="348.00" y2="484.17"/>
<line x1="547.00" y1="480" x2="547.00" y2="484.17"/>
<line x1="745.00" y1="480" x2="745.00" y2="484.17"/>
<line x1="944.00" y1="480" x2="944.00" y2="484.17"/>
</g>
<rect x="150" y="72" width="894" height="408" fill="none" stroke="#000" stroke-width="2.08"/>
<g clip-path="url(#ax)">
<path d="M150.00 352.00 L162.50 352.00 L164.00 86.80 L176.30 86.80 L177.20 333.25 L207.50 333.25 L209.00 87.70 L221.30 87.70 L222.80 441.90 L223.50 454.75 L230.50 454.75 L232.75 449.50 L244.50 449.50 L245.30 442.72 L247.00 255.70 L259.50 255.70 L260.00 187.00 L277.50 187.00 L278.00 83.20 L287.50 83.20 L289.10 443.92 L289.80 457.00 L306.00 457.00 L306.80 451.88 L308.00 310.75 L318.00 310.75 L319.40 451.88 L320.10 457.00 L321.10 457.00 L321.90 443.86 L324.40 81.60 L326.40 81.60 L329.20 443.86 L329.90 457.00 L330.50 457.00 L331.30 447.71 L333.25 191.50 L349.00 191.50 L350.00 335.80 L398.30 335.80 L398.80 245.20 L402.00 245.20 L403.50 125.80 L417.50 125.80 L418.50 128.20 L435.00 128.20 L437.50 358.00 L455.00 358.00 L455.80 319.30 L499.75 319.30 L501.25 149.80 L520.50 149.80 L521.00 247.75 L541.00 247.75 L542.25 91.00 L546.00 91.00 L548.80 444.91 L549.50 457.75 L549.50 457.75 L549.80 444.94 L553.00 91.75 L569.50 91.75 L570.50 174.25 L581.00 174.25 L582.00 93.50 L583.70 93.50 L584.60 170.00 L584.60 170.00 L585.80 448.40 L586.50 458.50 L597.00 458.50 L597.80 455.38 L598.30 369.25 L625.00 369.25 L626.50 109.30 L642.50 109.30 L643.50 251.20 L661.00 251.20 L661.50 362.50 L680.50 362.50 L682.00 154.30 L707.00 154.30 L709.75 364.00 L752.00 364.00 L754.50 122.20 L777.00 122.20 L778.80 440.65 L779.50 452.20 L801.50 452.20 L802.30 439.64 L804.00 93.40 L806.00 93.40 L807.30 441.38 L808.00 454.00 L811.50 454.00 L812.30 441.40 L814.25 93.90 L816.50 93.90 L819.00 98.50 L832.00 98.50 L833.50 324.00 L842.50 324.00 L843.50 452.06 L844.20 456.70 L859.00 456.70 L859.80 445.00 L861.00 122.50 L880.75 122.50 L883.00 281.50 L901.50 281.50 L903.25 350.80 L916.50 350.80 L917.50 123.25 L932.50 123.25 L934.30 370.75 L947.00 370.75 L948.30 132.60 L950.00 132.60 L951.80 440.58 L952.50 451.75 L964.50 451.75 L965.30 442.07 L967.30 175.30 L985.75 175.30 L988.55 442.07 L989.25 451.75 L1001.00 451.75 L1001.80 442.05 L1003.75 174.55 L1022.80 174.55 L1023.50 434.38 L1024.20 443.80 L1036.25 443.80 L1037.05 435.65 L1038.25 211.00 L1044.50 211.00" fill="none" stroke="#ff00ff" stroke-width="2.78" stroke-linejoin="round" stroke-linecap="butt"/>
</g>
<g stroke="#000" stroke-width="2.08" fill="none">
<line x1="1044" y1="480.00" x2="1050.00" y2="480.00"/>
<line x1="1044" y1="422.00" x2="1050.00" y2="422.00"/>
<line x1="1044" y1="363.00" x2="1050.00" y2="363.00"/>
<line x1="1044" y1="305.00" x2="1050.00" y2="305.00"/>
<line x1="1044" y1="247.00" x2="1050.00" y2="247.00"/>
<line x1="1044" y1="189.00" x2="1050.00" y2="189.00"/>
<line x1="1044" y1="130.00" x2="1050.00" y2="130.00"/>
<line x1="1044" y1="72.00" x2="1050.00" y2="72.00"/>
</g>
<rect x="150" y="72" width="894" height="408" fill="none" stroke="#000" stroke-width="2.08"/>
<g font-size="19.44px" fill="#000" text-anchor="end">
<text x="139.40" y="480.00">0</text>
<text x="139.40" y="398.00">10</text>
<text x="139.40" y="317.00">20</text>
<text x="139.40" y="235.00">30</text>
<text x="139.40" y="153.00">40</text>
</g>
<g font-size="19.44px" fill="#ff00ff" text-anchor="start">
<text x="1054.70" y="488.30">40</text>
<text x="1054.70" y="430.30">60</text>
<text x="1054.70" y="371.30">80</text>
<text x="1054.70" y="313.30">100</text>
<text x="1054.70" y="255.30">120</text>
<text x="1054.70" y="197.30">140</text>
<text x="1054.70" y="138.30">160</text>
<text x="1054.70" y="80.30">180</text>
</g>
<g font-size="19.44px" fill="#000" text-anchor="end" letter-spacing="-0.2">
<text transform="translate(255.50,507.70) rotate(-30)" x="0" y="0">2025:264</text>
<text transform="translate(454.50,507.70) rotate(-30)" x="0" y="0">2025:266</text>
<text transform="translate(652.50,507.70) rotate(-30)" x="0" y="0">2025:268</text>
<text transform="translate(851.50,507.70) rotate(-30)" x="0" y="0">2025:270</text>
<text transform="translate(1049.50,507.70) rotate(-30)" x="0" y="0">2025:272</text>
</g>
<text x="597.50" y="576.50" font-size="19.44px" text-anchor="middle" fill="#000">Date</text>
<text transform="translate(102.00,276.00) rotate(-90)" font-size="19.44px" text-anchor="start" fill="#000"><tspan x="-87.20" y="0" letter-spacing="0.32">Temperature</tspan><tspan x="45.00" y="0">(</tspan><tspan x="54.80" y="-8.00" font-size="13.608px">&#8728;</tspan><tspan x="67.60" y="0">C)</tspan></text>
<text transform="translate(1111.00,278.00) rotate(-90)" font-size="19.44px" text-anchor="middle" fill="#ff00ff">Pitch (deg)</text>
<text x="150.00" y="58.00" font-size="22.22px" text-anchor="start" fill="#000">TMP_FEP1_ACTEL</text>
<rect x="383.60" y="32.20" width="307.00" height="34.00" rx="3.9" ry="3.9" fill="#ffffff" fill-opacity="0.8" stroke="#cccccc" stroke-width="1.39"/>
<line x1="391.40" y1="48.10" x2="430.28" y2="48.10" stroke="#ffd700" stroke-width="2.78" stroke-linecap="square"/>
<text x="445.90" y="55.20" font-size="19.44px" fill="#000">Yellow</text>
<line x1="544.10" y1="48.10" x2="582.98" y2="48.10" stroke="#008000" stroke-width="4.17" stroke-linecap="square"/>
<text x="600.10" y="55.20" font-size="19.44px" fill="#000" letter-spacing="-0.15">Planning</text>
</svg></body></html>
